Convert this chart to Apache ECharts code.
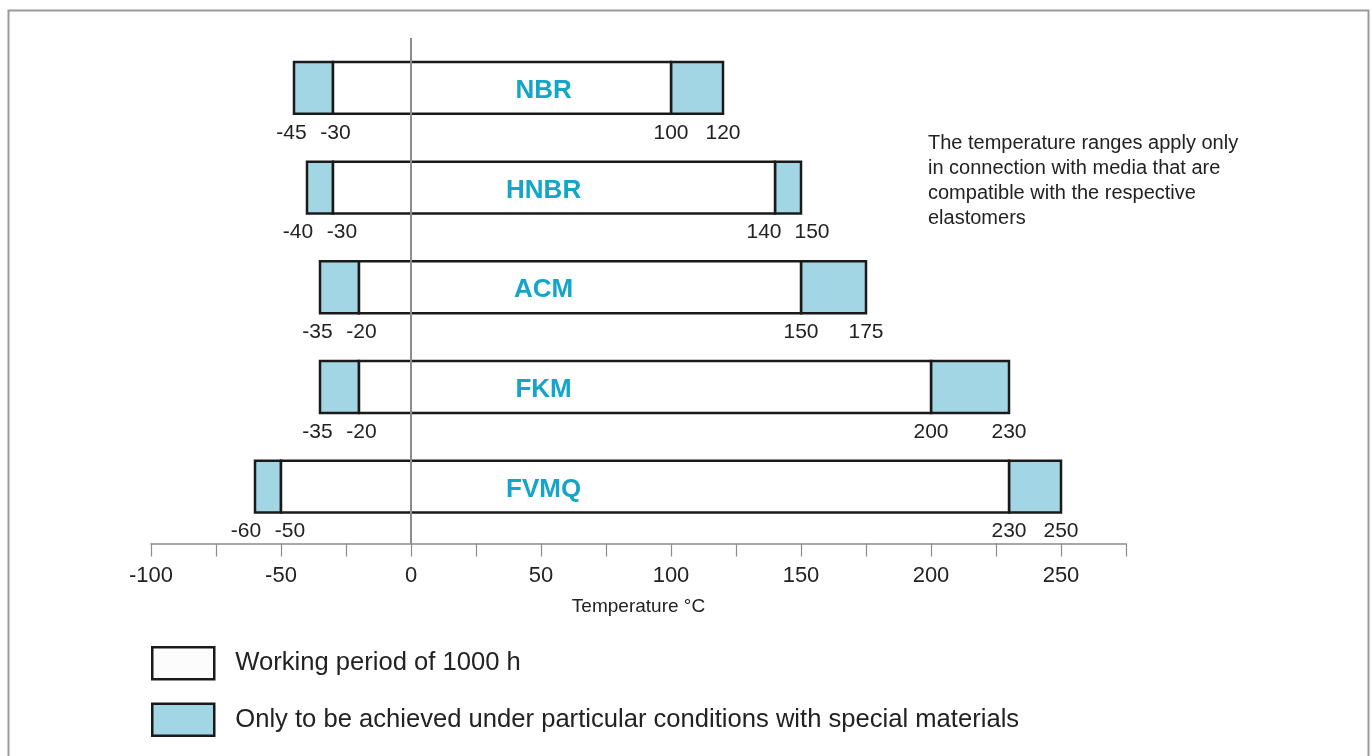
<!DOCTYPE html>
<html>
<head>
<meta charset="utf-8">
<script src="https://cdn.jsdelivr.net/npm/echarts@6/dist/echarts.min.js"></script>
<style>
  html, body { margin: 0; padding: 0; background: #ffffff; }
  #chart { width: 1371px; height: 756px; }
</style>
</head>
<body>
<div id="chart"></div>
<script>
// ---- data ----
const materials   = ['NBR', 'HNBR', 'ACM', 'FKM', 'FVMQ'];
const specialLow  = [-45, -40, -35, -35, -60];
const workLow     = [-30, -30, -20, -20, -50];
const workHigh    = [100, 140, 150, 200, 230];
const specialHigh = [120, 150, 175, 230, 250];
const axisMin = -100, axisMax = 275, axisStep = 25, labelStep = 50;
const legendWork = 'Working period of 1000 h';
const legendSpecial = 'Only to be achieved under particular conditions with special materials';
const noteText = 'The temperature ranges apply only\nin connection with media that are\ncompatible with the respective\nelastomers';
const axisTitle = 'Temperature °C';

// ---- styling ----
const FONT = '"Liberation Sans", Arial, sans-serif';
const BLUE = '#a2d6e4';
const EDGE = '#1a1a1a';
const GRAY = '#8c8c8c';
const TEXT = '#222222';
const NAME_COLOR = '#14a5c8';
const BAR_FRAC = 0.52;

const workData = materials.map((m, i) => [i, workLow[i], workHigh[i]]);
const specialData = [];
materials.forEach((m, i) => {
  specialData.push([i, specialLow[i], workLow[i]]);
  specialData.push([i, workHigh[i], specialHigh[i]]);
});
const labelData = materials.map((m, i) => [i, specialLow[i], workLow[i], workHigh[i], specialHigh[i]]);

function segRenderer(fill) {
  return function (params, api) {
    const i = api.value(0);
    const p1 = api.coord([api.value(1), i + 0.5]);
    const p2 = api.coord([api.value(2), i + 0.5]);
    const h = api.size([0, 1])[1] * BAR_FRAC;
    return {
      type: 'rect',
      shape: { x: p1[0], y: p1[1] - h / 2, width: p2[0] - p1[0], height: h },
      style: { fill: fill, stroke: EDGE, lineWidth: 2.5 }
    };
  };
}

function spread(xa, xb, minGap) {
  const d = xb - xa;
  if (d < minGap) {
    const s = (minGap - d) / 2;
    return [xa - s, xb + s];
  }
  return [xa, xb];
}

function labelRenderer(params, api) {
  const i = api.value(0);
  const vals = [api.value(1), api.value(2), api.value(3), api.value(4)];
  const pts = vals.map(v => api.coord([v, i + 0.5]));
  const h = api.size([0, 1])[1] * BAR_FRAC;
  const yc = pts[0][1];
  const left = spread(pts[0][0], pts[1][0], 44);
  const right = spread(pts[2][0], pts[3][0], 48);
  const xs = [left[0], left[1], right[0], right[1]];
  const children = vals.map((v, k) => ({
    type: 'text',
    style: {
      text: String(v), x: xs[k], y: yc + h / 2 + 19,
      align: 'center', verticalAlign: 'middle',
      font: '21px ' + FONT, fill: TEXT
    }
  }));
  const nameX = api.coord([51, i + 0.5])[0];
  children.push({
    type: 'text',
    style: {
      text: materials[i], x: nameX, y: yc + 3,
      align: 'center', verticalAlign: 'middle',
      font: 'bold 26px ' + FONT, fill: NAME_COLOR
    }
  });
  return { type: 'group', children: children };
}

const chart = echarts.init(document.getElementById('chart'), null, { renderer: 'canvas' });
chart.setOption({
  animation: false,
  backgroundColor: '#ffffff',
  grid: { left: 151, right: 245, top: 38, bottom: 212.5 },
  xAxis: {
    type: 'value', min: axisMin, max: axisMax, interval: axisStep,
    axisLine: { show: true, onZero: false, lineStyle: { color: GRAY, width: 1.5 } },
    axisTick: { show: true, length: 13, lineStyle: { color: GRAY, width: 1.2 } },
    splitLine: { show: false },
    axisLabel: {
      margin: 21, color: TEXT, fontSize: 22, fontFamily: FONT,
      formatter: v => (v % labelStep === 0 ? String(v) : '')
    },
    name: axisTitle, nameLocation: 'middle', nameGap: 54,
    nameTextStyle: { color: TEXT, fontSize: 19, fontFamily: FONT }
  },
  yAxis: { type: 'value', inverse: true, min: 0, max: 5.07, show: false },
  legend: {
    orient: 'vertical', left: 146, top: 641,
    itemWidth: 62, itemHeight: 32, itemGap: 22,
    selectedMode: false,
    textStyle: { fontSize: 25.6, color: TEXT, fontFamily: FONT, padding: [0, 0, 0, 16] },
    data: [
      { name: legendWork, icon: 'rect', itemStyle: { color: '#fcfcfc', borderColor: EDGE, borderWidth: 2.5 } },
      { name: legendSpecial, icon: 'rect', itemStyle: { color: BLUE, borderColor: EDGE, borderWidth: 2.5 } }
    ]
  },
  graphic: [
    { type: 'rect', left: 6, top: 8, z: -1, silent: true,
      shape: { width: 1360, height: 800 },
      style: { fill: 'none', stroke: '#9a9a9a', lineWidth: 2 } },
    { type: 'text', left: 928, top: 131,
      style: { text: noteText, font: '20px ' + FONT, fill: TEXT, lineHeight: 25 } }
  ],
  series: [
    { name: legendSpecial, type: 'custom', renderItem: segRenderer(BLUE),
      itemStyle: { color: BLUE }, encode: { x: [1, 2], y: 0 }, data: specialData, z: 2 },
    { name: legendWork, type: 'custom', renderItem: segRenderer('#ffffff'),
      itemStyle: { color: '#ffffff' }, encode: { x: [1, 2], y: 0 }, data: workData, z: 2 },
    { name: 'labels', type: 'custom', renderItem: labelRenderer,
      encode: { x: [1, 2, 3, 4], y: 0 }, data: labelData, z: 3, silent: true,
      markLine: {
        silent: true, symbol: ['none', 'none'],
        label: { show: false },
        lineStyle: { color: GRAY, width: 2, type: 'solid' },
        data: [{ xAxis: 0 }]
      } }
  ]
});
</script>
</body>
</html>
